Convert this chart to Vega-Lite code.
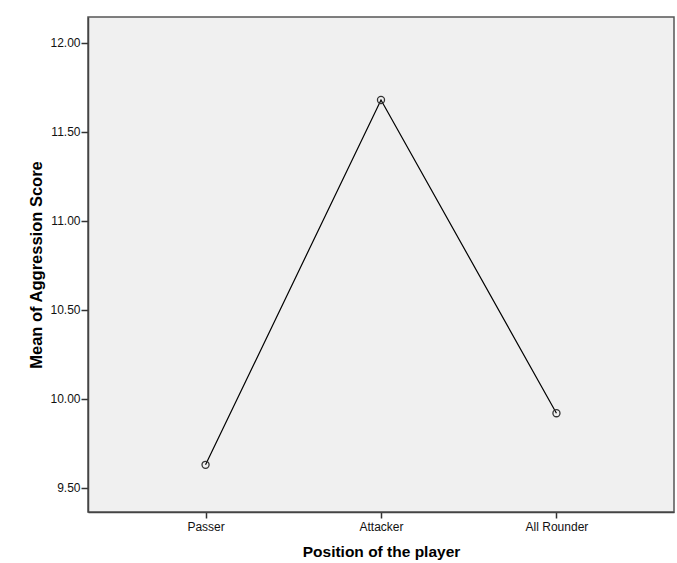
{
  "$schema": "https://vega.github.io/schema/vega-lite/v6.json",
  "autosize": "none",
  "width": 586,
  "height": 495,
  "padding": {"left": 88, "top": 17, "right": 3, "bottom": 51},
  "background": "white",
  "data": {"values": [
    {"position": "Passer", "mean": 9.63},
    {"position": "Attacker", "mean": 11.68},
    {"position": "All Rounder", "mean": 9.92}
  ]},
  "encoding": {
    "x": {
      "field": "position", "type": "nominal", "sort": null,
      "scale": {"type": "point", "padding": 0.67},
      "axis": {"title": "Position of the player", "labelAngle": 0, "tickSize": 6, "labelPadding": 3, "titlePadding": 12}
    },
    "y": {
      "field": "mean", "type": "quantitative",
      "scale": {"domain": [9.365, 12.146], "nice": false, "zero": false},
      "axis": {"title": "Mean of Aggression Score", "values": [9.5, 10, 10.5, 11, 11.5, 12], "format": ".2f", "grid": false, "tickSize": 7, "labelPadding": 1, "titlePadding": 5, "titleFontSize": 16.5}
    }
  },
  "layer": [
    {"mark": {"type": "line", "color": "black", "strokeWidth": 1.2}},
    {"mark": {"type": "point", "shape": "circle", "filled": false, "color": "#333", "size": 50, "strokeWidth": 1.3, "opacity": 1}}
  ],
  "config": {
    "view": {"fill": "#f0f0f0", "stroke": "#555", "strokeWidth": 1.5},
    "axis": {
      "labelFont": "Liberation Sans", "labelFontSize": 12, "labelColor": "#111",
      "titleFont": "Liberation Sans", "titleFontSize": 15.5, "titleFontWeight": "bold", "titleColor": "#000",
      "domainColor": "#444", "tickColor": "#333", "domainWidth": 1.5, "tickWidth": 1.5
    }
  }
}
